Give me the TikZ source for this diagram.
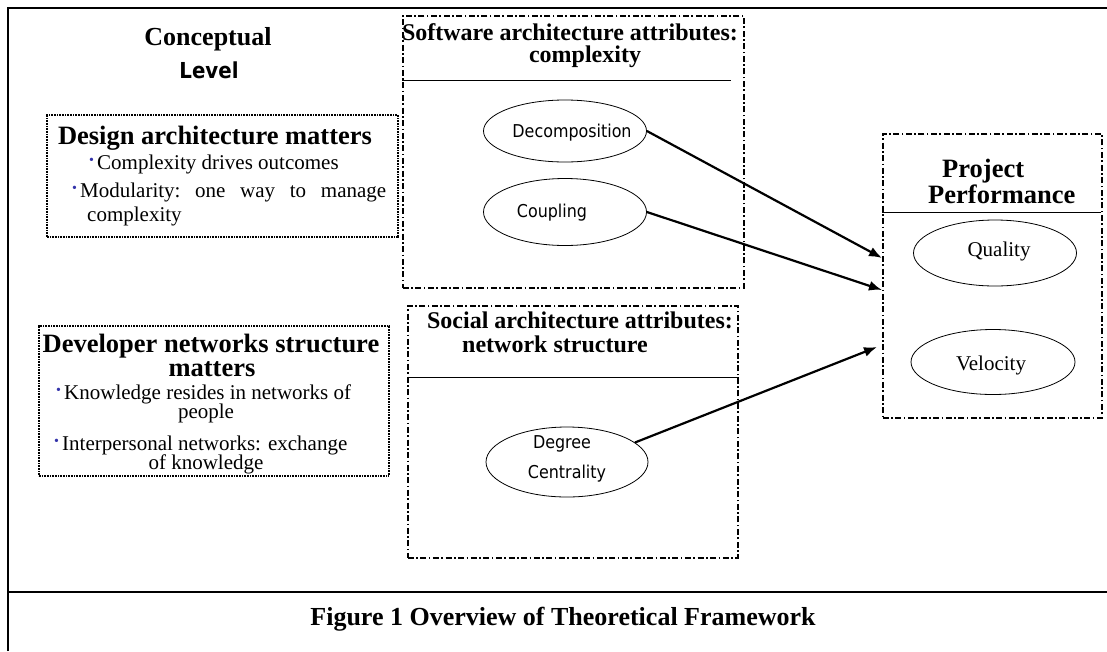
\documentclass[tikz,border=0pt]{standalone}
\usepackage{fontspec}
\setmainfont{Liberation Serif}
\newfontfamily\sansf{DejaVu Sans Condensed}
\usetikzlibrary{shapes.geometric,arrows.meta}
\definecolor{bulletblue}{RGB}{51,51,170}
\newcommand{\fsz}[1]{\fontsize{#1}{#1}\selectfont}
\newcommand{\blt}{\makebox[8pt][l]{\raisebox{4.5pt}{\color{bulletblue}\fsz{14}•}}}
\begin{document}
\begin{tikzpicture}[x=1pt,y=-1pt,
  frame/.style={line width=2.6pt},
  dotbox/.style={draw, dash pattern=on 0.9pt off 0.7pt, line width=1.5pt, inner sep=0pt, anchor=north west},
  dashdot/.style={draw, line width=1.5pt, dash pattern=on 6pt off 2.5pt on 1.6pt off 2.5pt, inner sep=0pt, anchor=north west},
  sepline/.style={line width=0.9pt},
  oval/.style={draw, ellipse, line width=0.8pt, inner sep=0pt},
  arr/.style={line width=2.2pt, -{Latex[length=13pt,width=10pt]}},
  txt/.style={inner sep=0pt, anchor=base},
  txtw/.style={inner sep=0pt, anchor=base west},
  bigb/.style={font=\bfseries\fsz{26.5}},
  medb/.style={font=\bfseries\fsz{24}},
  body/.style={font=\fsz{21}},
  sanst/.style={font=\sansf\fsz{17.7}}
]
\useasboundingbox (0,0) rectangle (1107,651);
% outer frame
\draw[frame] (8,651) -- (8,8) -- (1107,8);
\draw[frame] (8,592) -- (1107,592);

% conceptual level
\node[txt, font=\bfseries\fsz{26}] (concept) at (208,45) {Conceptual};
\node[txt, font=\sansf\bfseries\fsz{22}] (level) at (209,78) {Level};

% design box
\node[dotbox, minimum width=351pt, minimum height=122pt] (design) at (46,114) {};
\node[txt, bigb] (dtitle) at (215,144) {Design architecture matters};
\node[txtw, body] (d1) at (89,169) {\blt Complexity drives outcomes};
\node[txtw, body] (d2) at (72,197) {\blt\hbox to 306pt{Modularity:\hfill one\hfill way\hfill to\hfill manage}};
\node[txtw, body] (d3) at (87,221) {complexity};

% developer box
\node[dotbox, minimum width=350pt, minimum height=150pt] (devel) at (38,325) {};
\node[txt, bigb] (vtitle1) at (211,352) {Developer networks structure};
\node[txt, bigb] (vtitle2) at (212,376) {matters};
\node[txtw, body] (v1) at (56,399) {\blt Knowledge resides in networks of};
\node[txt, body] (v2) at (206,418) {people};
\node[txtw, body] (v3) at (54,450) {\blt Interpersonal networks: exchange};
\node[txt, body] (v4) at (206,469) {of knowledge};

% software box
\node[dashdot, minimum width=341pt, minimum height=272pt] (soft) at (402,15) {};
\node[txt, medb] (stitle1) at (570,40) {Software architecture attributes:};
\node[txt, medb] (stitle2) at (585,62) {complexity};
\draw[sepline] (402,80) -- (731,80);
\node[oval, minimum width=163pt, minimum height=62pt] (dec) at (565,131) {};
\node[txt, sanst] (dectext) at (572,137) {Decomposition};
\node[oval, minimum width=163pt, minimum height=67pt] (coup) at (565,212) {};
\node[txt, sanst] (couptext) at (552,217) {Coupling};

% social box
\node[dashdot, minimum width=330pt, minimum height=252pt] (social) at (407,305) {};
\node[txt, medb] (ntitle1) at (580,328) {Social architecture attributes:};
\node[txt, medb] (ntitle2) at (555,352) {network structure};
\draw[sepline] (407,377) -- (739,377);
\node[oval, minimum width=162pt, minimum height=70pt] (deg) at (567,462) {};
\node[txt, sanst] (degtext1) at (562,448) {Degree};
\node[txt, sanst] (degtext2) at (567,478) {Centrality};

% project box
\node[dashdot, minimum width=219pt, minimum height=284pt] (proj) at (882,133) {};
\node[txtw, bigb] (ptitle1) at (942,177) {Project};
\node[txtw, bigb] (ptitle2) at (928,203) {Performance};
\draw[sepline] (882,212) -- (1101,212);
\node[oval, minimum width=163pt, minimum height=66pt] (qual) at (995,253) {};
\node[txt, body] (qualtext) at (999,256) {Quality};
\node[oval, minimum width=164pt, minimum height=65pt] (vel) at (993,362) {};
\node[txt, body] (veltext) at (991,370) {Velocity};

% arrows
\coordinate (p1) at (882,258);
\coordinate (p2) at (882,290);
\coordinate (p3) at (877,347);
\draw[arr] (dec.east) -- (p1);
\draw[arr] (coup.east) -- (p2);
\draw[arr] (deg.16) -- (p3);

% caption
\node[txt, font=\bfseries\fsz{26}] (caption) at (563,625) {Figure 1 Overview of Theoretical Framework};
\end{tikzpicture}
\end{document}
